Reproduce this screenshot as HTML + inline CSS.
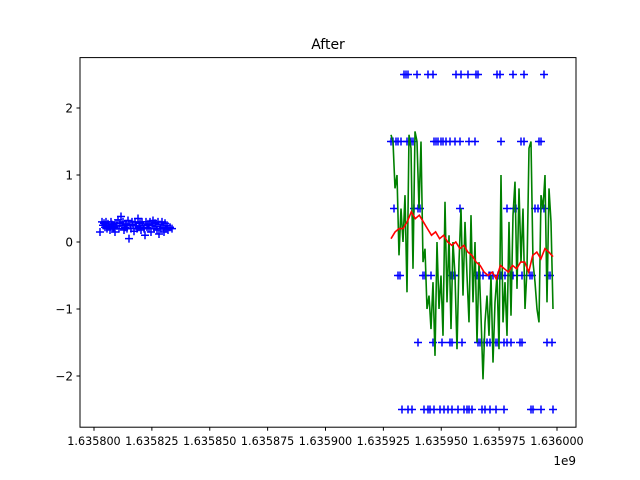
<!DOCTYPE html>
<html><head><meta charset="utf-8"><style>
body{margin:0;background:#fff;}
svg{display:block;font-family:"DejaVu Sans","Liberation Sans",sans-serif;}
</style></head><body>
<svg id="chart" width="640" height="480">
<rect x="0" y="0" width="640" height="480" fill="#fff"/>
<text x="328" y="49" font-size="14" text-anchor="middle">After</text>
<g id="marks"></g>
<rect x="80" y="57.6" width="496" height="369.6" fill="none" stroke="#000" stroke-width="1"/>
<g id="axes"></g>
<text x="576" y="465" font-size="12" text-anchor="end">1e9</text>
</svg>
<script>
const xTicks=[1635800,1635825,1635850,1635875,1635900,1635925,1635950,1635975,1636000];
const xTickLabels=["1.635800","1.635825","1.635850","1.635875","1.635900","1.635925","1.635950","1.635975","1.636000"];
const yTicks=[-2,-1,0,1,2];
const lvl25=[404,406,408,417,428,433,456,461,468,476,478,497,500,513,524,544];
const lvl15=[391,393,396,398,401,407,409,411,413,434,436,438,441,443,446,450,455,460,469,475,501,521,524,539,541];
const lvl05=[394,414,418,420,460,507,514,516,535,538,541,544];
const lvlm05=[398,400,423,425,431,451,454,455,477,480,483,489,490,493,498,501,505,511,513,522,530,532,548,550];
const lvlm15=[418,433,442,450,452,462,478,480,484,487,490,496,498,504,507,511,520,522,547,552];
const lvlm25=[402,408,412,424,428,430,434,440,444,448,452,458,464,467,469,472,482,485,490,496,504,531,533,541,553];
const clusterX=[100,102,103,104,105,106,107,108,109,110,111,112,113,114,115,116,117,118,119,120,121,122,123,124,125,126,127,128,129,130,131,132,133,134,135,136,137,138,139,140,141,142,143,144,145,146,147,148,149,150,151,152,153,154,155,156,157,158,159,160,161,162,163,164,165,166,167,168,170,172];
const clusterY=[0.15,0.3,0.25,0.28,0.22,0.3,0.2,0.27,0.24,0.18,0.3,0.26,0.2,0.22,0.15,0.28,0.24,0.33,0.2,0.28,0.38,0.25,0.3,0.18,0.22,0.27,0.2,0.32,0.05,0.25,0.2,0.3,0.26,0.16,0.3,0.24,0.2,0.35,0.22,0.28,0.18,0.3,0.25,0.2,0.1,0.3,0.22,0.27,0.2,0.3,0.15,0.25,0.32,0.2,0.28,0.23,0.18,0.3,0.12,0.26,0.2,0.3,0.22,0.15,0.28,0.2,0.25,0.18,0.22,0.2];
const greenY=[1.6,1.5,0.8,1.0,-0.2,0.5,0.0,0.7,-0.75,1.6,1.4,-0.4,1.65,1.5,0.5,1.5,-0.3,-0.1,-1.0,-0.8,-1.3,-0.6,-1.7,0.0,-1.0,-0.5,-1.4,0.6,-0.9,0.1,-1.3,0.0,-0.5,-1.6,-0.3,0.5,-0.8,0.3,-0.5,-1.2,0.4,-0.9,0.0,-1.5,-0.3,-1.1,-2.05,-1.2,-0.8,-1.4,-0.5,-1.8,-0.9,-0.5,-1.6,1.0,-1.2,-0.6,-1.4,0.3,-1.1,0.4,0.9,-0.7,0.8,-0.3,0.5,-1.0,-0.4,1.4,1.5,-0.3,-0.6,-1.0,-1.2,0.7,0.5,1.0,-0.9,0.8,0.3,-1.0];
const redY=[0.05,0.15,0.2,0.2,0.3,0.45,0.35,0.4,0.3,0.2,0.1,0.15,0.05,0.1,0.0,-0.05,0.0,-0.1,-0.05,-0.15,-0.2,-0.3,-0.35,-0.45,-0.5,-0.45,-0.55,-0.35,-0.4,-0.45,-0.35,-0.4,-0.3,-0.3,-0.45,-0.2,-0.15,-0.25,-0.1,-0.15,-0.22];
const NS="http://www.w3.org/2000/svg";
const X0=1635800,PX0=94,PPU=2.315;
const xs=v=>PX0+(v-X0)*PPU;
const ys=v=>242-v*67;
const px2x=p=>X0+(p-PX0)/PPU;
const marks=document.getElementById('marks'),axes=document.getElementById('axes');
function mk(tag,attrs,parent){const e=document.createElementNS(NS,tag);for(const k in attrs)e.setAttribute(k,attrs[k]);parent.appendChild(e);return e;}
function plus(x,y){const p=mk('path',{d:`M${x-4},${y}H${x+4}M${x},${y-4}V${y+4}`,stroke:'#0000ff','stroke-width':1.5,fill:'none'},marks);

}
clusterX.forEach((p,i)=>plus(xs(px2x(p)),ys(clusterY[i])));
[[lvl25,2.5],[lvl15,1.5],[lvl05,0.5],[lvlm05,-0.5],[lvlm15,-1.5],[lvlm25,-2.5]].forEach(([arr,v])=>arr.forEach(p=>plus(xs(px2x(p)),ys(v))));
let d='';greenY.forEach((v,i)=>{const x=xs(px2x(391+i*(162/(greenY.length-1))));d+=(i?'L':'M')+x.toFixed(1)+','+ys(v).toFixed(1);});
const g=mk('path',{d:d,stroke:'#008000','stroke-width':1.6,fill:'none'},marks);


d='';redY.forEach((v,i)=>{const x=xs(px2x(391+i*(162/(redY.length-1))));d+=(i?'L':'M')+x.toFixed(1)+','+ys(v).toFixed(1);});
const r=mk('path',{d:d,stroke:'#ff0000','stroke-width':1.6,fill:'none'},marks);


xTicks.forEach((t,i)=>{const x=xs(t);
mk('line',{x1:x,x2:x,y1:427.2,y2:430.7,stroke:'#000'},axes);
const tx=mk('text',{x:x,y:445,'font-size':11.2,'text-anchor':'middle'},axes);tx.textContent=xTickLabels[i];

});
yTicks.forEach(t=>{const y=ys(t);
mk('line',{x1:76.5,x2:80,y1:y,y2:y,stroke:'#000'},axes);
const tx=mk('text',{x:73,y:y+4.5,'font-size':12,'text-anchor':'end'},axes);tx.textContent=t<0?'\u2212'+Math.abs(t):String(t);

});
</script>
</body></html>
